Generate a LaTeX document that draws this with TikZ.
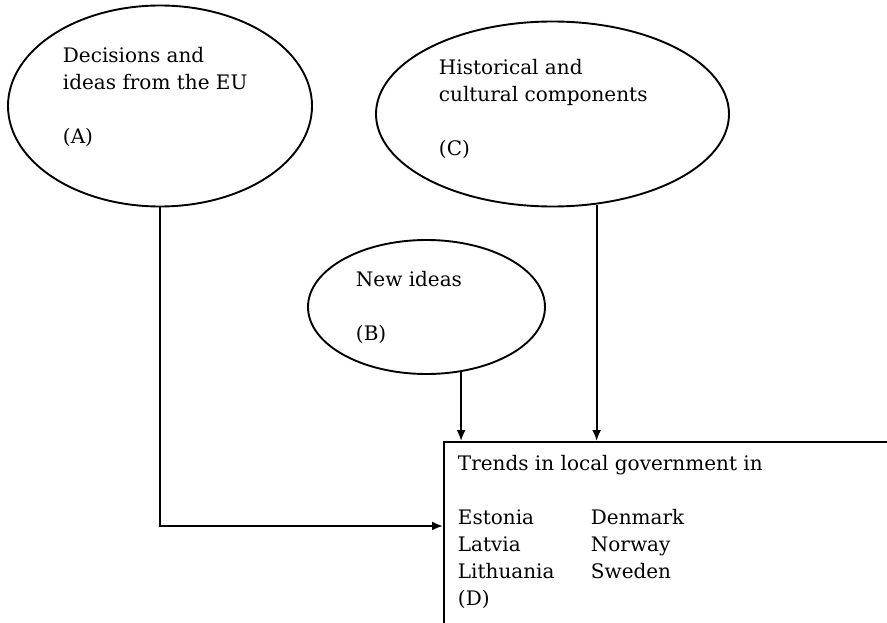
\documentclass[tikz,border=0pt]{standalone}
\usepackage{fontspec}
\setmainfont{DejaVu Serif}
\usetikzlibrary{arrows.meta,calc,shapes.geometric}
\begin{document}
\begin{tikzpicture}[x=1pt,y=-1pt,line width=1.9pt,
  bubble/.style={draw, ellipse, inner sep=0pt},
  txt/.style={anchor=base west, inner sep=0pt, font=\fontsize{20}{27}\selectfont},
  link/.style={-{Latex[length=11pt,width=9pt]}}]
\useasboundingbox (0,0) rectangle (887,623);
\clip (0,0) rectangle (887,623);

% source ellipses
\node[bubble, minimum width=304pt, minimum height=201pt] (A) at (160,106) {};
\node[bubble, minimum width=353pt, minimum height=185pt] (C) at (552.5,114) {};
\node[bubble, minimum width=237pt, minimum height=134pt] (B) at (426.5,307) {};

% target box, running off the right and bottom edges
\node[draw, anchor=north west, minimum width=500pt, minimum height=260pt, inner sep=0pt] (D) at (443,441) {};

% texts
\node[txt] (At) at (62,63) {\begin{tabular}[t]{@{}l@{}}Decisions and\\ ideas from the EU\\ \\ (A)\end{tabular}};
\node[txt] (Ct) at (438,75) {\begin{tabular}[t]{@{}l@{}}Historical and\\ cultural components\\ \\ (C)\end{tabular}};
\node[txt] (Bt) at (355,287) {\begin{tabular}[t]{@{}l@{}}New ideas\\ \\ (B)\end{tabular}};
\node[txt] (Dt) at (457,470) {\begin{tabular}[t]{@{}p{133pt}@{}l@{}}\multicolumn{2}{@{}l@{}}{Trends in local government in}\\ \\
Estonia & Denmark\\ Latvia & Norway\\ Lithuania & Sweden\\ (D) & \end{tabular}};

% connectors
\draw[link] (A.south) |- ($(D.north west)+(0,85)$);
\draw[link] (B.-62.5) -- (B.-62.5 |- D.north);
\draw[link] (C.-64.3) -- (C.-64.3 |- D.north);
\end{tikzpicture}
\end{document}
